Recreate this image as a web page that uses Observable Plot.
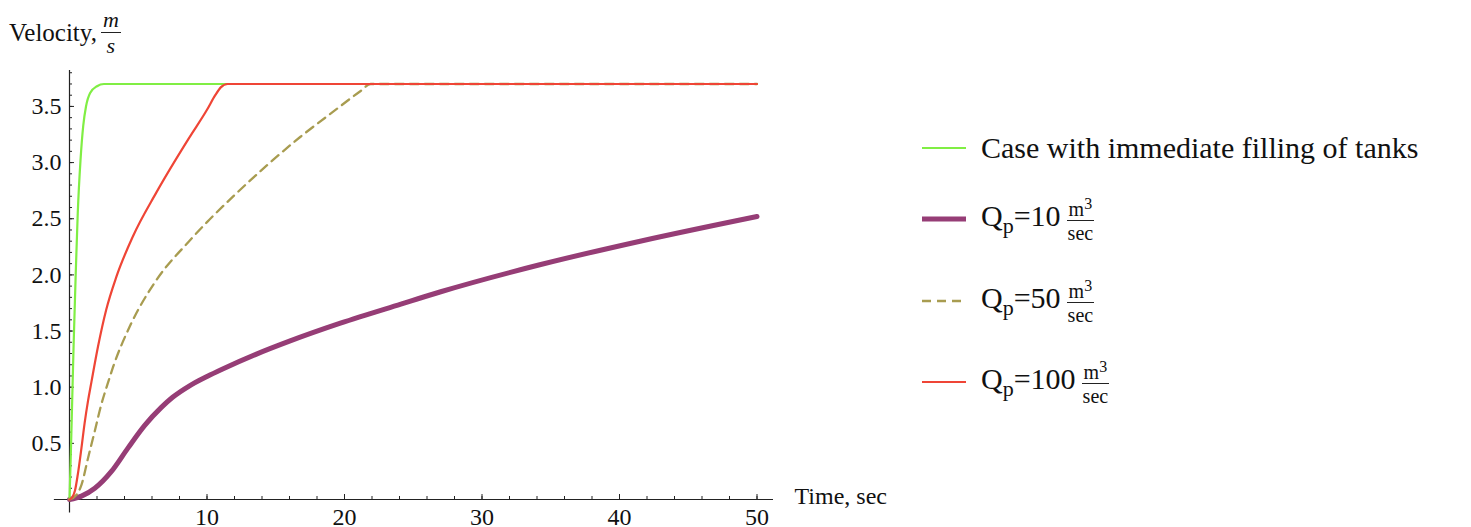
<!DOCTYPE html>
<html>
<head>
<meta charset="utf-8">
<script src="https://cdn.jsdelivr.net/npm/d3@7"></script>
<script src="https://cdn.jsdelivr.net/npm/@observablehq/plot@0.6"></script>
<style>
  html, body { margin: 0; padding: 0; background: #fff; }
  body { width: 1471px; height: 527px; overflow: hidden; font-family: "Liberation Serif", "DejaVu Serif", serif; color: #111; }
  #wrap { position: relative; width: 1471px; height: 527px; }
  #chart { position: absolute; left: 0; top: 0; }
  #chart svg text { font-family: "Liberation Serif", serif; }
  #ylabel { position: absolute; left: 9px; top: 9px; font-size: 25px; display: flex; align-items: center; white-space: nowrap; }
  .frac { display: inline-flex; flex-direction: column; align-items: center; vertical-align: middle; line-height: 1; }
  .frac .num { border-bottom: 1.3px solid #222; padding: 0 2px 1px 2px; }
  .frac .den { padding-top: 2px; }
  #ylabel .frac { font-style: italic; font-size: 22px; margin-left: 4px; }
  #legend { position: absolute; left: 922px; top: 0; }
  .item { position: absolute; left: 0; display: flex; align-items: center; white-space: nowrap; font-size: 30px; }
  .item svg { width: 44px; height: 10px; margin-right: 15px; }
  .item .frac { font-size: 20px; margin-left: 6px; }
  .item sub { font-size: 22px; vertical-align: -7px; }
  .item sup { font-size: 16px; vertical-align: 7px; }
</style>
</head>
<body>
<div id="wrap">
  <div id="chart"></div>
  <div id="ylabel">Velocity,<span class="frac"><span class="num">m</span><span class="den">s</span></span></div>
  <div id="legend"></div>
</div>
<script>
// ---- data ----
const seriesNames = ["Case with immediate filling of tanks", "Q_p=10", "Q_p=50", "Q_p=100"];
const seriesColors = ["#80ee44", "#963d76", "#a89c50", "#ef4536"];

const tImmediate = [0, 0.1, 0.2, 0.3, 0.45, 0.6, 0.8, 1.0, 1.2, 1.5, 2.0, 2.5, 3.0, 50];
const vImmediate = [0, 0.42, 0.9, 1.38, 2.0, 2.55, 3.02, 3.33, 3.5, 3.62, 3.68, 3.70, 3.70, 3.70];

const tQ10 = [0, 0.87, 1.84, 3.05, 4.26, 5.47, 6.68, 7.5, 8.7, 10.0, 11.1, 13.6, 16.0, 19.7, 24.1, 27.0, 34.2, 41.5, 50];
const vQ10 = [0, 0.03, 0.10, 0.25, 0.46, 0.66, 0.82, 0.91, 1.01, 1.095, 1.16, 1.295, 1.41, 1.57, 1.74, 1.85, 2.09, 2.30, 2.52];

const tQ50 = [0, 0.5, 0.87, 1.35, 1.84, 2.3, 2.8, 3.17, 4.38, 6.3, 8.7, 10.0, 12.0, 14.4, 16.8, 19.25, 21.2, 21.9, 50];
const vQ50 = [0, 0.04, 0.13, 0.37, 0.61, 0.84, 1.04, 1.18, 1.54, 1.95, 2.30, 2.47, 2.71, 2.98, 3.23, 3.46, 3.64, 3.70, 3.70];

const tQ100 = [0, 0.2, 0.4, 0.6, 0.87, 1.1, 1.35, 1.6, 2.07, 2.67, 3.4, 4.6, 6.3, 8.7, 10.0, 10.6, 11.0, 11.5, 50];
const vQ100 = [0, 0.02, 0.08, 0.22, 0.46, 0.68, 0.88, 1.05, 1.36, 1.69, 1.98, 2.34, 2.73, 3.22, 3.47, 3.60, 3.67, 3.70, 3.70];

const xMajorTicks = [10, 20, 30, 40, 50];
const xMinorTicks = d3.range(2, 51, 2);
const yMajorTicks = [0.5, 1.0, 1.5, 2.0, 2.5, 3.0, 3.5];
const yMinorTicks = d3.range(1, 39).map(i => i / 10);
const xAxisExtent = [-1.1, 51.2];
const yAxisExtent = [-0.12, 3.82];
const xLabel = "Time, sec";

// ---- build ----
const toRows = (name, ts, vs) => ts.map((t, i) => ({series: name, t, v: vs[i]}));
const rowsImm = toRows(seriesNames[0], tImmediate, vImmediate);
const rows10 = toRows(seriesNames[1], tQ10, vQ10);
const rows50 = toRows(seriesNames[2], tQ50, vQ50);
const rows100 = toRows(seriesNames[3], tQ100, vQ100);

const font = "Liberation Serif";
const chart = Plot.plot({
  width: 900,
  height: 527,
  marginLeft: 69,
  marginRight: 127,
  marginTop: 70,
  marginBottom: 28,
  style: {fontFamily: font, fontSize: "24px", color: "#111", background: "transparent", overflow: "visible"},
  x: {domain: [0, xAxisExtent[1]], axis: null},
  y: {domain: [0, yAxisExtent[1]], axis: null},
  marks: [
    // axes lines
    Plot.ruleY([0], {x1: xAxisExtent[0], x2: xAxisExtent[1], stroke: "#222", strokeWidth: 1.2}),
    Plot.ruleX([0], {y1: yAxisExtent[0], y2: yAxisExtent[1], stroke: "#222", strokeWidth: 1.2}),
    // ticks (inward)
    Plot.axisX({ticks: xMinorTicks, tickSize: -3, tickFormat: () => "", stroke: "#222", label: null}),
    Plot.axisX({ticks: xMajorTicks, tickSize: -5, tickFormat: () => "", stroke: "#222", label: null}),
    Plot.axisX({ticks: xMajorTicks, tickSize: 0, tickPadding: 8, tickFormat: "d", fontSize: 24, fontFamily: font, fill: "#111", label: null}),
    Plot.axisY({ticks: yMinorTicks, tickSize: -3, tickFormat: () => "", stroke: "#222", label: null}),
    Plot.axisY({ticks: yMajorTicks, tickSize: -5, tickFormat: () => "", stroke: "#222", label: null}),
    Plot.axisY({ticks: yMajorTicks, tickSize: 0, tickPadding: 8, tickFormat: ".1f", fontSize: 24, fontFamily: font, fill: "#111", label: null}),
    // curves
    Plot.line(rows10, {x: "t", y: "v", stroke: seriesColors[1], strokeWidth: 5, curve: "monotone-x"}),
    Plot.line(rows50, {x: "t", y: "v", stroke: seriesColors[2], strokeWidth: 2.3, strokeDasharray: "9,6", curve: "monotone-x"}),
    Plot.line(rowsImm, {x: "t", y: "v", stroke: seriesColors[0], strokeWidth: 2.2, curve: "monotone-x"}),
    Plot.line(rows100, {x: "t", y: "v", stroke: seriesColors[3], strokeWidth: 2.2, curve: "monotone-x"}),
    // x label at the end of the axis
    Plot.text([xLabel], {frameAnchor: "bottom-right", text: d => d, textAnchor: "start", lineAnchor: "middle", dx: 21, dy: -3, fontSize: 24, fontFamily: font, fill: "#111"})
  ]
});
document.getElementById("chart").appendChild(chart);

// ---- legend ----
const legend = document.getElementById("legend");
const legendTops = [148, 219, 301, 382];
const legendDash = [null, null, "9,6", null];
const legendWidth = [2.2, 5, 2.3, 2.2];
const legendValues = [null, "10", "50", "100"];
seriesNames.forEach((name, i) => {
  const item = document.createElement("div");
  item.className = "item";
  item.style.top = (legendTops[i] - 22) + "px";
  item.style.height = "44px";
  const sw = `<svg viewBox="0 0 44 10"><line x1="0" y1="5" x2="44" y2="5" stroke="${seriesColors[i]}" stroke-width="${legendWidth[i]}" ${legendDash[i] ? `stroke-dasharray="${legendDash[i]}"` : ""}/></svg>`;
  let label;
  if (legendValues[i] === null) {
    label = `<span>${name}</span>`;
  } else {
    label = `<span>Q<sub>p</sub>=${legendValues[i]}</span><span class="frac"><span class="num">m<sup>3</sup></span><span class="den">sec</span></span>`;
  }
  item.innerHTML = sw + label;
  legend.appendChild(item);
});
</script>
</body>
</html>
